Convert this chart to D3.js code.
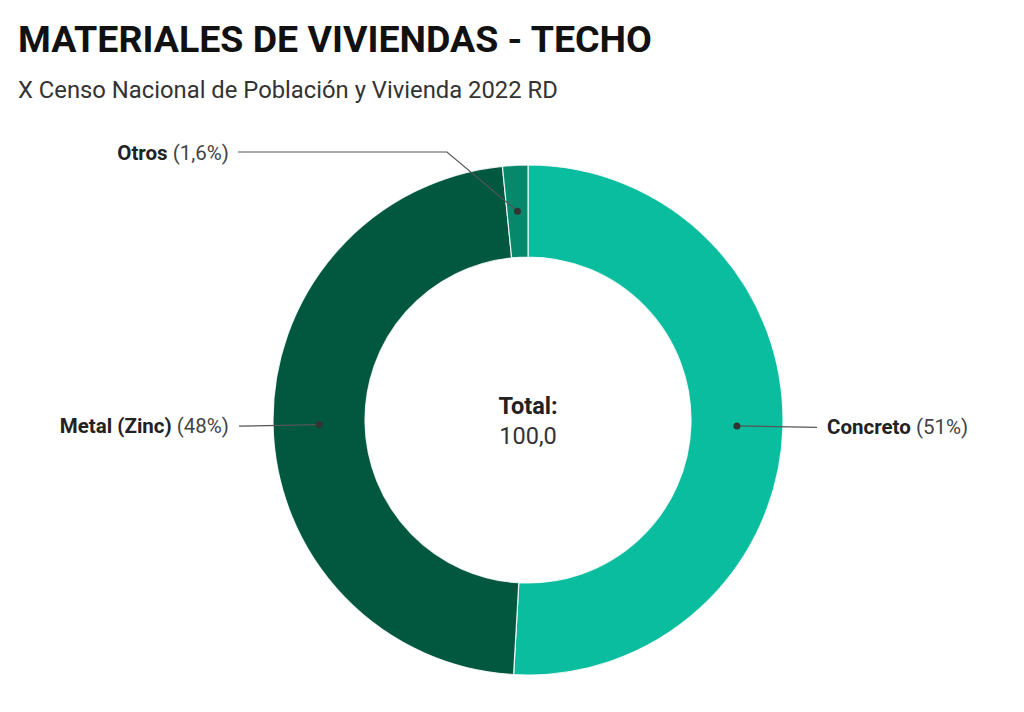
<!DOCTYPE html>
<html>
<head>
<meta charset="utf-8">
<script src="https://cdn.jsdelivr.net/npm/d3@7"></script>
<style>
  body { margin: 0; background: #fff; }
  svg { font-family: Roboto, "Noto Sans", sans-serif; }
</style>
</head>
<body>
<div id="chart-area"></div>
<script>
// Datos del censo 2022
const categorias = ["Concreto", "Metal (Zinc)", "Otros"]
const valores = [50.9, 47.5, 1.6]
const etiquetasPct = ["51%", "48%", "1,6%"]
const colores = ["#0bbd9f", "#02583f", "#07886a"]
const total = "100,0"

const WIDTH = 1024
const HEIGHT = 712
const CX = 528, CY = 420
const R_OUT = 255, R_IN = 163

const svg = d3.select("#chart-area")
    .append("svg")
    .attr("width", WIDTH)
    .attr("height", HEIGHT)

svg.append("text")
    .attr("x", 18)
    .attr("y", 52)
    .style("font-size", "37.5px")
    .style("font-weight", 700)
    .attr("fill", "#111")
    .text("MATERIALES DE VIVIENDAS - TECHO")

svg.append("text")
    .attr("x", 18)
    .attr("y", 98)
    .style("font-size", "23.8px")
    .attr("fill", "#333")
    .text("X Censo Nacional de Población y Vivienda 2022 RD")

const data = categorias.map((c, i) => ({ cat: c, valor: valores[i], pct: etiquetasPct[i], color: colores[i] }))

const pie = d3.pie()
    .sort(null)
    .value(d => d.valor)

const arc = d3.arc()
    .innerRadius(R_IN)
    .outerRadius(R_OUT)

const arcMid = d3.arc()
    .innerRadius((R_IN + R_OUT) / 2)
    .outerRadius((R_IN + R_OUT) / 2)

const g = svg.append("g")
    .attr("transform", `translate(${CX}, ${CY})`)

const arcs = pie(data)

g.selectAll("path")
    .data(arcs)
    .enter()
    .append("path")
    .attr("d", arc)
    .attr("fill", d => d.data.color)
    .attr("stroke", "rgba(255,255,255,0.85)")
    .attr("stroke-width", 1.2)

// lineas de etiquetas
const lado = d => (d.startAngle + d.endAngle) / 2 < Math.PI ? 1 : -1

arcs.forEach(d => {
    const [x, y] = arcMid.centroid(d)
    let pts
    let tx, ty
    if (d.data.cat === "Otros") {
        pts = [[x, y], [-81, -268], [-290, -268]]
        tx = -299; ty = -260
    } else {
        const s = lado(d)
        const xEnd = s * 289
        pts = [[x, y], [xEnd, y + 1.5]]
        tx = s * 299; ty = y + 8.5
    }
    g.append("path")
        .attr("d", d3.line()(pts))
        .attr("fill", "none")
        .attr("stroke", "#555")
        .attr("stroke-width", 1.2)

    g.append("circle")
        .attr("cx", x)
        .attr("cy", y)
        .attr("r", 3.5)
        .attr("fill", "#333")

    const t = g.append("text")
        .attr("x", tx)
        .attr("y", ty)
        .attr("text-anchor", tx < 0 ? "end" : "start")
        .style("font-size", "20.5px")
        .attr("fill", "#222")
    t.append("tspan").style("font-weight", 700).text(d.data.cat)
    t.append("tspan").attr("fill", "#444").text(" (" + d.data.pct + ")")
})

// total en el centro
g.append("text")
    .attr("y", -6.5)
    .attr("text-anchor", "middle")
    .style("font-size", "23.5px")
    .style("font-weight", 700)
    .attr("fill", "#222")
    .text("Total:")

g.append("text")
    .attr("y", 23.5)
    .attr("text-anchor", "middle")
    .style("font-size", "23.5px")
    .attr("fill", "#333")
    .text(total)
</script>
</body>
</html>
